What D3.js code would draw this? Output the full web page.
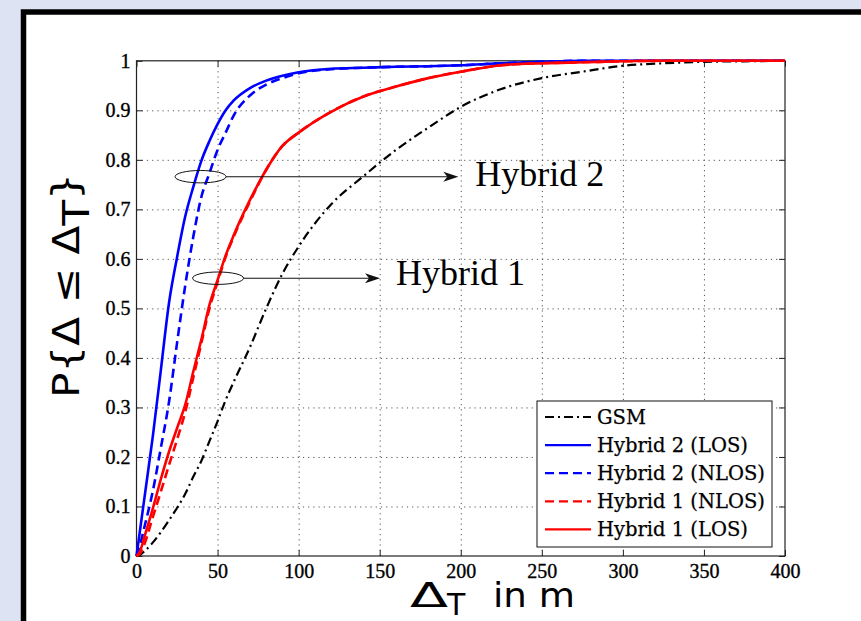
<!DOCTYPE html>
<html>
<head>
<meta charset="utf-8">
<script src="https://cdn.jsdelivr.net/npm/d3@7"></script>
<style>
  html, body { margin: 0; padding: 0; background: #dde3f2; overflow: hidden; }
  svg { display: block; }
  .tick-labels text { font-family: 'Liberation Serif', 'Times New Roman', serif; font-size: 20px; fill: #000; stroke: #000; stroke-width: 0.35px; }
</style>
</head>
<body>
<svg id="chart" width="861" height="621"></svg>
<script>
// axis ticks
const xTicks = [0, 50, 100, 150, 200, 250, 300, 350, 400];
const xTickLabels = ["0", "50", "100", "150", "200", "250", "300", "350", "400"];
const yTicks = [0, 0.1, 0.2, 0.3, 0.4, 0.5, 0.6, 0.7, 0.8, 0.9, 1];
const yTickLabels = ["0", "0.1", "0.2", "0.3", "0.4", "0.5", "0.6", "0.7", "0.8", "0.9", "1"];

const deltaGrid = [0, 2, 5, 10, 15, 20, 25, 30, 35, 40, 45, 50, 55, 60, 70, 80, 90, 100,
    120, 140, 160, 180, 200, 225, 250, 275, 300, 325, 350, 375, 400];

// CDF values per series
const gsmCdf = [0, 0.002, 0.01, 0.027, 0.048, 0.072, 0.097, 0.125, 0.16, 0.192, 0.232, 0.272, 0.315, 0.352, 0.422, 0.5, 0.57, 0.625,
    0.71, 0.767, 0.82, 0.865, 0.907, 0.943, 0.965, 0.978, 0.99, 0.995, 0.998, 0.999, 1];
const hybrid2LosCdf = [0, 0.048, 0.12, 0.24, 0.375, 0.51, 0.603, 0.685, 0.745, 0.798, 0.838, 0.872, 0.9, 0.92, 0.945, 0.96, 0.97, 0.977,
    0.984, 0.986, 0.988, 0.989, 0.991, 0.995, 0.998, 1, 1, 1, 1, 1, 1];
const hybrid2NlosCdf = [0, 0.02, 0.06, 0.13, 0.218, 0.31, 0.43, 0.545, 0.644, 0.725, 0.773, 0.82, 0.855, 0.89, 0.93, 0.952, 0.965, 0.975,
    0.983, 0.986, 0.988, 0.989, 0.991, 0.995, 0.998, 1, 1, 1, 1, 1, 1];
const hybrid1NlosCdf = [0, 0.004, 0.025, 0.078, 0.13, 0.183, 0.235, 0.29, 0.36, 0.43, 0.5, 0.553, 0.604, 0.645, 0.716, 0.78, 0.828, 0.855,
    0.897, 0.928, 0.948, 0.965, 0.978, 0.991, 0.995, 0.997, 0.999, 1, 1, 1, 1];
const hybrid1LosCdf = [0, 0.008, 0.04, 0.095, 0.155, 0.21, 0.258, 0.305, 0.372, 0.437, 0.507, 0.557, 0.607, 0.648, 0.719, 0.78, 0.828, 0.855,
    0.897, 0.928, 0.948, 0.965, 0.978, 0.991, 0.995, 0.997, 0.999, 1, 1, 1, 1];

const legendLabels = ["GSM", "Hybrid 2 (LOS)", "Hybrid 2 (NLOS)", "Hybrid 1 (NLOS)", "Hybrid 1 (LOS)"];

// annotations (data coords)
const annoLabels = ["Hybrid 2", "Hybrid 1"];
const annoEllipseX = [39.5, 50.3];
const annoArrowY = [0.766, 0.561];
const annoArrowEndX = [198.5, 150.2];
const annoTextX = [209, 160];
const annoTextY = [0.747, 0.547];

//styles for each series, same order as legend
const seriesStyle = [
    { color: "#000", dash: "9,4,2,4", width: 2.2 },
    { color: "#0000ff", dash: null, width: 2.6 },
    { color: "#0000ff", dash: "9,5", width: 2.6 },
    { color: "#ff0000", dash: "9,5", width: 2.6 },
    { color: "#ff0000", dash: null, width: 2.6 }
];
const seriesValues = [gsmCdf, hybrid2LosCdf, hybrid2NlosCdf, hybrid1NlosCdf, hybrid1LosCdf];

const svg = d3.select("#chart");

//outer white panel with thick black frame (runs off right/bottom)
svg.append("rect")
    .attr("x", 23.5).attr("y", 12)
    .attr("width", 900).attr("height", 700)
    .attr("fill", "white")
    .attr("stroke", "black")
    .attr("stroke-width", 5.5);

const plotLeft = 136.5, plotRight = 785, plotTop = 60.8, plotBottom = 556;
const innerW = plotRight - plotLeft, innerH = plotBottom - plotTop;

const x = d3.scaleLinear().domain([0, 400]).range([plotLeft, plotRight]);
const y = d3.scaleLinear().domain([0, 1]).range([plotBottom, plotTop]);

//dotted grid
svg.append("g")
    .attr("transform", `translate(0,${plotBottom})`)
    .call(d3.axisBottom(x).tickValues(xTicks.slice(1, -1)).tickSize(-innerH).tickFormat(""))
    .call(g => g.select(".domain").remove())
    .selectAll("line")
    .attr("stroke", "#555")
    .attr("stroke-dasharray", "1.2,4");

svg.append("g")
    .attr("transform", `translate(${plotLeft},0)`)
    .call(d3.axisLeft(y).tickValues(yTicks.slice(1, -1)).tickSize(-innerW).tickFormat(""))
    .call(g => g.select(".domain").remove())
    .selectAll("line")
    .attr("stroke", "#555")
    .attr("stroke-dasharray", "1.2,4");

//axes with inside ticks
const tickFont = "'Liberation Serif', 'Times New Roman', serif";

const xAxisG = svg.append("g")
    .attr("class", "tick-labels")
    .attr("transform", `translate(0,${plotBottom})`)
    .call(d3.axisBottom(x).tickValues(xTicks).tickSizeInner(-6).tickSizeOuter(0).tickPadding(8)
        .tickFormat((d, i) => xTickLabels[i]));
xAxisG.attr("font-family", tickFont).attr("font-size", 20);
xAxisG.select(".domain").remove();
xAxisG.selectAll("line").attr("stroke", "#222");

const yAxisG = svg.append("g")
    .attr("class", "tick-labels")
    .attr("transform", `translate(${plotLeft},0)`)
    .call(d3.axisLeft(y).tickValues(yTicks).tickSizeInner(-6).tickSizeOuter(0).tickPadding(6)
        .tickFormat((d, i) => yTickLabels[i]));
yAxisG.attr("font-family", tickFont).attr("font-size", 20);
yAxisG.select(".domain").remove();
yAxisG.selectAll("line").attr("stroke", "#222");

svg.append("g")
    .attr("transform", `translate(0,${plotTop})`)
    .call(d3.axisTop(x).tickValues(xTicks).tickSizeInner(-6).tickSizeOuter(0).tickFormat(""))
    .call(g => g.select(".domain").remove())
    .call(g => g.selectAll("line").attr("stroke", "#222"));

svg.append("g")
    .attr("transform", `translate(${plotRight},0)`)
    .call(d3.axisRight(y).tickValues(yTicks).tickSizeInner(-6).tickSizeOuter(0).tickFormat(""))
    .call(g => g.select(".domain").remove())
    .call(g => g.selectAll("line").attr("stroke", "#222"));

//plot box
svg.append("rect")
    .attr("x", plotLeft).attr("y", plotTop)
    .attr("width", innerW).attr("height", innerH)
    .attr("fill", "none")
    .attr("stroke", "#222")
    .attr("stroke-width", 1.2);

//curves
const line = d3.line()
    .x((d, i) => x(deltaGrid[i]))
    .y(d => y(d))
    .curve(d3.curveMonotoneX);

svg.append("g")
    .selectAll("path")
    .data(seriesValues)
    .join("path")
    .attr("d", d => line(d))
    .attr("fill", "none")
    .attr("stroke", (d, i) => seriesStyle[i].color)
    .attr("stroke-width", (d, i) => seriesStyle[i].width)
    .attr("stroke-dasharray", (d, i) => seriesStyle[i].dash)
    .attr("stroke-linejoin", "round");

//annotations: ellipse + arrow + label
const anno = svg.append("g");
annoLabels.forEach((label, i) => {
    const cx = x(annoEllipseX[i]), cy = y(annoArrowY[i]);
    const rx = 25.5, ry = 6.2;
    const tipX = x(annoArrowEndX[i]);
    anno.append("ellipse")
        .attr("cx", cx).attr("cy", cy)
        .attr("rx", rx).attr("ry", ry)
        .attr("fill", "none")
        .attr("stroke", "#111")
        .attr("stroke-width", 1);
    anno.append("line")
        .attr("x1", cx + rx).attr("y1", cy)
        .attr("x2", tipX - 8).attr("y2", cy)
        .attr("stroke", "#111")
        .attr("stroke-width", 1.1);
    anno.append("path")
        .attr("d", `M${tipX},${cy} L${tipX - 15},${cy - 5} L${tipX - 11},${cy} L${tipX - 15},${cy + 5} Z`)
        .attr("fill", "#111");
    anno.append("text")
        .attr("x", x(annoTextX[i]))
        .attr("y", y(annoTextY[i]))
        .style("font-family", tickFont)
        .style("font-size", "36px")
        .attr("fill", "#000")
        .text(label);
});

//legend
const legX = 537, legY = 401, legW = 235, legH = 146, rowH = 28.1;
const legend = svg.append("g");
legend.append("rect")
    .attr("x", legX).attr("y", legY)
    .attr("width", legW).attr("height", legH)
    .attr("fill", "white")
    .attr("stroke", "#111")
    .attr("stroke-width", 1);

const rows = legend.selectAll("g.row")
    .data(legendLabels)
    .join("g")
    .attr("class", "row")
    .attr("transform", (d, i) => `translate(${legX},${legY + 16 + i * rowH})`);

rows.append("line")
    .attr("x1", 8).attr("x2", 54)
    .attr("stroke", (d, i) => seriesStyle[i].color)
    .attr("stroke-width", (d, i) => seriesStyle[i].width * 0.85)
    .attr("stroke-dasharray", (d, i) => seriesStyle[i].dash);

rows.append("text")
    .attr("x", 60)
    .attr("y", 7)
    .style("font-family", "'DejaVu Serif', serif")
    .style("font-size", "19.5px")
    .attr("fill", "#000")
    .attr("stroke", "#000")
    .attr("stroke-width", 0.25)
    .text(d => d);

//y-axis title, rotated: P{Δ ≤ Δ_T}
const yTitle = svg.append("text")
    .attr("transform", "translate(79,398) rotate(-90)")
    .attr("textLength", 225)
    .attr("lengthAdjust", "spacingAndGlyphs")
    .style("font-family", "'DejaVu Sans', sans-serif")
    .style("font-size", "37px")
    .attr("fill", "#000");
yTitle.append("tspan").text("P{Δ ≤ Δ");
yTitle.append("tspan").attr("dy", 10).text("T");
yTitle.append("tspan").attr("dy", -10).text("}");

//x-axis title: Δ_T in m
const xTitle = svg.append("text")
    .attr("y", 607)
    .style("font-family", "'DejaVu Sans', sans-serif")
    .style("font-size", "34px")
    .attr("fill", "#000");
xTitle.append("tspan").attr("x", 410).attr("textLength", 38).attr("lengthAdjust", "spacingAndGlyphs").text("Δ");
xTitle.append("tspan").attr("x", 447).attr("dy", 8).style("font-size", "30px").text("T");
xTitle.append("tspan").attr("x", 493).attr("dy", -8).style("font-size", "33px")
    .attr("textLength", 82).attr("lengthAdjust", "spacingAndGlyphs").text("in m");
</script>
</body>
</html>
